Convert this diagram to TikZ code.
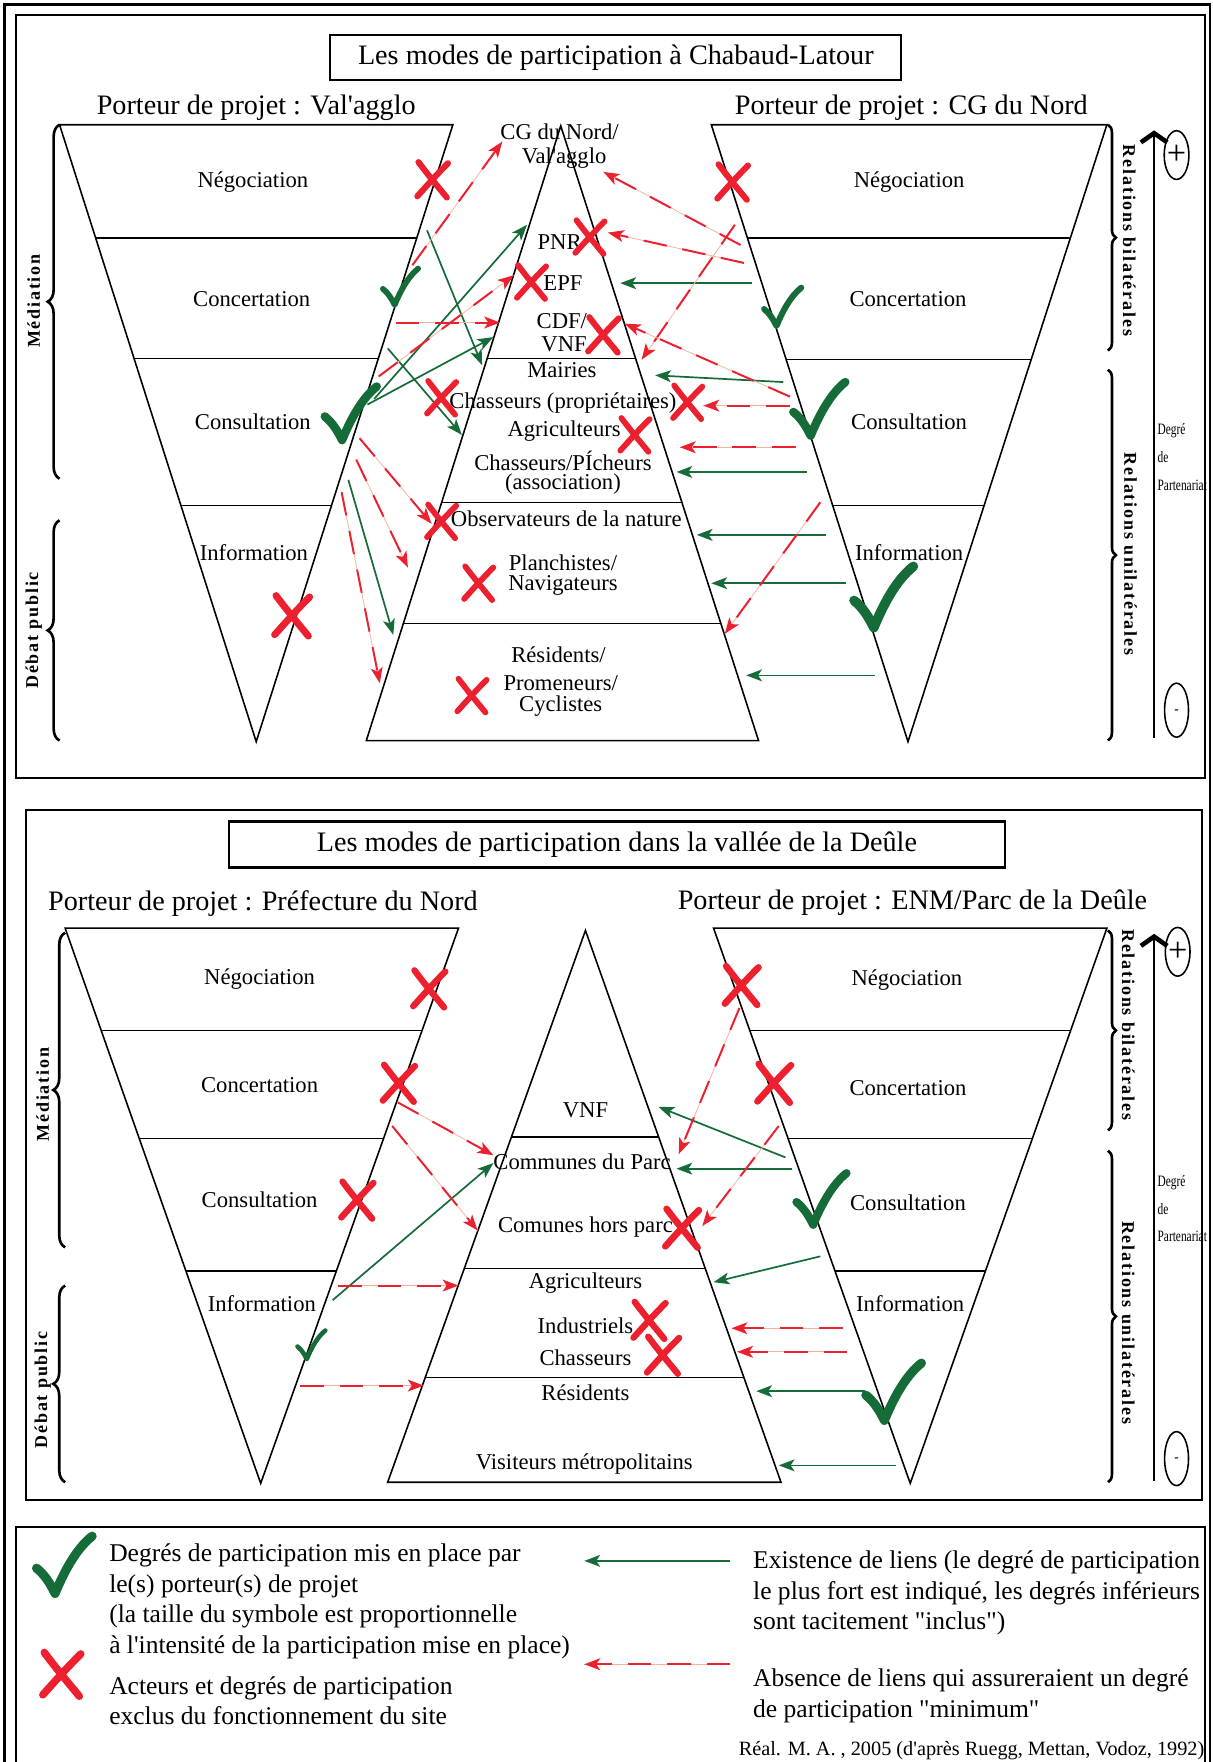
\documentclass[tikz,border=0pt]{standalone}
\usepackage{fontspec}
\setmainfont{Liberation Serif}[Ligatures=TeXOff]
\newfontfamily\espace[LetterSpace=10]{Liberation Serif}
\usetikzlibrary{arrows.meta,calc,decorations.pathreplacing}

\definecolor{rouge}{RGB}{236,32,46}
\definecolor{rose}{RGB}{244,178,160}
\definecolor{vert}{RGB}{22,108,56}

% symboles : croix (exclu) et coche (mis en place)
\newcommand{\croix}[3]{\draw[rouge,line width=#3*4.4pt,line cap=round,shift={(#1,#2)},scale=#3]
  (-12,-15) .. controls (-3,-3) and (3,4) .. (12,15)
  (13,-14) .. controls (3,-4) and (-4,4) .. (-13,14);}
\newcommand{\coche}[3]{\draw[vert,line width=#3*4.6pt,line cap=round,line join=round,shift={(#1,#2)},scale=#3]
  (-15,-1) .. controls (-10,3) and (-7,8) .. (-4,14) .. controls (1,2) and (8,-12) .. (18,-20);}
% entonnoir / pyramide coupe en niveaux
\newcommand{\niveaux}[7]{%
  \draw[forme] (#1,#5) -- (#2,#5) -- (#4,#6) -- (#3,#6) -- cycle;
  \foreach \yy in {#7}{%
    \pgfmathsetmacro{\tpos}{(\yy-#5)/(#6-#5)}
    \draw[forme] ($(#1,#5)!\tpos!(#3,#6)$) -- ($(#2,#5)!\tpos!(#4,#6)$);}}

\begin{document}
\begin{tikzpicture}[x=0.03cm,y=-0.03cm]
  \tikzset{every node/.style={inner sep=0pt},font=\fontsize{17.2}{20}\selectfont}
  \tikzstyle{forme}=[line width=1.2pt]
  \tikzstyle{cadre}=[line width=1.6pt]
  \tikzstyle{titre}=[font=\fontsize{21.4}{25}\selectfont]
  \tikzstyle{legende}=[font=\fontsize{19.4}{23}\selectfont,anchor=base west]
  \tikzstyle{lateral}=[font=\espace\bfseries\fontsize{13.7}{16}\selectfont]
  \tikzstyle{accolade}=[decorate,decoration={brace,amplitude=9pt},line width=2pt]
  \tikzstyle{accolade d}=[decorate,decoration={brace,amplitude=6pt},line width=2pt]
  \tikzstyle{partenariat}=[font=\fontsize{12}{21}\selectfont,align=left,anchor=north west,xscale=.72,transform shape]
  \tikzstyle{lien}=[vert,line width=1.3pt,-{Stealth[length=12pt,width=9pt,inset=3pt]}]
  \tikzstyle{absent}=[rouge,line width=1.5pt,dash pattern=on 18pt off 12pt,
    -{Stealth[length=12pt,width=9pt,inset=3pt]},preaction={draw=rose,line width=.6pt,solid,-}]
  \tikzstyle{axe}=[line width=1pt,-{Straight Barb[length=7pt,width=20pt,line width=3.5pt]}]

  \useasboundingbox (0,0) rectangle (1079,1568);

  % cadres
  \draw[cadre] (4,1590) -- (4,4) -- (1077,4) -- (1077,1590);
  \draw[cadre] (14,13) rectangle (1072,692);
  \draw[cadre] (23,721) rectangle (1070,1335);
  \draw[cadre] (14,1590) -- (14,1359) -- (1072,1359) -- (1072,1590);

  %% ---- Chabaud-Latour ----
  \draw[cadre] (294,31) rectangle (802,71);
  \node[titre] (titre1) at (548,51) {Les modes de participation à Chabaud-Latour};
  \node[titre] (port1g) at (228,96) {Porteur de projet : Val'agglo};
  \node[titre] (port1d) at (811,96) {Porteur de projet : CG du Nord};

  \niveaux{53}{403}{228}{228}{111}{660}{212,319,450}
  \niveaux{633}{985}{808}{808}{111}{660}{212,320,450}
  \niveaux{499}{499}{326}{675}{112}{659}{319,447,555}

  \node (neg1g) at (225,162) {Négociation};
  \node (con1g) at (224,266) {Concertation};
  \node (cst1g) at (225,375) {Consultation};
  \node (inf1g) at (226,492) {Information};
  \node (neg1d) at (809,162) {Négociation};
  \node (con1d) at (808,266) {Concertation};
  \node (cst1d) at (809,375) {Consultation};
  \node (inf1d) at (809,492) {Information};

  % acteurs
  \node (cg)   at (498,117) {CG du Nord/};
  \node (val)  at (502,141) {Val'agglo};
  \node (pnr)  at (498,215) {PNR};
  \node (epf)  at (501,252) {EPF};
  \node (cdf)  at (500,286) {CDF/};
  \node (vnf1) at (502,306) {VNF};
  \node (mai)  at (500,329) {Mairies};
  \node (chp)  at (501,359) {Chasseurs (propriétaires)};
  \node (agr1) at (502,384) {Agriculteurs};
  \node (chs)  at (501,410) {Chasseurs/PÍcheurs};
  \node (ass)  at (501,431) {(association)};
  \node (obs)  at (504,462) {Observateurs de la nature};
  \node (pla)  at (501,501) {Planchistes/};
  \node (nav)  at (501,521) {Navigateurs};
  \node (res1) at (497,583) {Résidents/};
  \node (pro)  at (499,608) {Promeneurs/};
  \node (cyc)  at (499,628) {Cyclistes};

  % liens
  \foreach \xa/\ya/\xb/\yb in {380/205/429/325, 333/355/469/200, 327/360/439/300,
      345/310/411/387, 310/427/350/565, 669/252/552/252, 697/340/583/334,
      718/420/602/420, 735/476/620/476, 753/519/633/519, 779/601/664/601}
    \draw[lien] (\xa,\ya) -- (\xb,\yb);
  \foreach \xa/\ya/\xb/\yb in {367/236/447/126, 337/335/457/245, 352/287/445/287,
      320/390/384/466, 317/409/363/505, 304/438/338/608, 659/218/537/153,
      662/234/541/207, 654/200/571/320, 703/353/556/288, 703/361/626/361,
      708/398/605/398, 730/447/645/564}
    \draw[absent] (\xa,\ya) -- (\xb,\yb);

  \croix{385}{160}{1.05} \croix{260}{548}{1.2}
  \croix{473}{251}{1} \croix{525}{211}{1} \croix{537}{298}{1.05}
  \croix{393}{354}{1} \croix{612}{358}{1} \croix{565}{387}{1}
  \croix{393}{464}{1} \croix{426}{519}{1} \croix{420}{619}{1}
  \croix{652}{162}{1.05}
  \coche{355}{258}{.95} \coche{310}{372}{1.4}
  \coche{695}{276}{1} \coche{727}{368}{1.4} \coche{784}{536}{1.6}

  % accolades et axe
  \draw[accolade] (53,426) -- (53,111);
  \draw[accolade] (53,659) -- (53,463);
  \draw[accolade d] (986,111) -- (986,312);
  \draw[accolade d] (986,329) -- (986,659);
  \node[lateral,rotate=90] (med1) at (30,268) {Médiation};
  \node[lateral,rotate=90] (deb1) at (30,561) {Débat public};
  \node[lateral,rotate=-90] (bil1) at (1005,214) {Relations bilatérales};
  \node[lateral,rotate=-90] (uni1) at (1006,493) {Relations unilatérales};
  \draw[axe] (1027,657) -- (1027,116);
  \draw[forme] (1047,138) ellipse [x radius=.33cm,y radius=.65cm];
  \draw[forme] (1047,632) ellipse [x radius=.32cm,y radius=.72cm];
  \node[font=\fontsize{26}{26}\selectfont] (plus1) at (1047,138) {+};
  \node[font=\bfseries] (moins1) at (1047,633) {-};
  \node[partenariat] (deg1) at (1030,377) {Degré\\de\\Partenariat};

  %% ---- vallée de la Deûle ----
  \draw[cadre] (204,731) rectangle (894,772);
  \node[titre] (titre2) at (549,752) {Les modes de participation dans la vallée de la Deûle};
  \node[titre] (port2g) at (234,804) {Porteur de projet : Préfecture du Nord};
  \node[titre] (port2d) at (812,803) {Porteur de projet : ENM/Parc de la Deûle};

  \niveaux{58}{408}{232}{232}{826}{1320}{917,1013,1131}
  \niveaux{635}{985}{810}{810}{826}{1320}{917,1013,1131}
  \niveaux{521}{521}{345}{695}{828}{1319}{1012,1129,1226}

  \node (neg2g) at (231,871) {Négociation};
  \node (con2g) at (231,966) {Concertation};
  \node (cst2g) at (231,1068) {Consultation};
  \node (inf2g) at (233,1160) {Information};
  \node (neg2d) at (807,872) {Négociation};
  \node (con2d) at (808,968) {Concertation};
  \node (cst2d) at (808,1070) {Consultation};
  \node (inf2d) at (810,1160) {Information};

  \node (vnf2) at (521,988) {VNF};
  \node (cdp)  at (518,1034) {Communes du Parc};
  \node (chp2) at (521,1092) {Comunes hors parc};
  \node (agr2) at (521,1142) {Agriculteurs};
  \node (ind)  at (521,1180) {Industriels};
  \node (cha2) at (521,1208) {Chasseurs};
  \node (res2) at (521,1239) {Résidents};
  \node (vis)  at (520,1303) {Visiteurs métropolitains};

  \foreach \xa/\ya/\xb/\yb in {296/1157/439/1035, 699/1030/586/985, 705/1040/602/1040,
      730/1118/635/1141, 770/1238/673/1238, 797/1304/693/1304}
    \draw[lien] (\xa,\ya) -- (\xb,\yb);
  \foreach \xa/\ya/\xb/\yb in {354/981/439/1028, 349/1002/425/1095, 301/1144/408/1144,
      267/1233/377/1233, 658/897/604/1027, 693/1002/625/1091,
      750/1182/651/1182, 754/1203/656/1203}
    \draw[absent] (\xa,\ya) -- (\xb,\yb);

  \croix{382}{880}{1.1} \croix{355}{964}{1.1} \croix{318}{1068}{1.1}
  \croix{660}{877}{1.15} \croix{689}{964}{1.15} \croix{607}{1093}{1.15}
  \croix{578}{1175}{1.1} \croix{590}{1206}{1.1}
  \coche{276}{1199}{.75} \coche{729}{1071}{1.35} \coche{793}{1243}{1.5}

  \draw[accolade] (58,1110) -- (58,830);
  \draw[accolade] (58,1319) -- (58,1144);
  \draw[accolade d] (986,828) -- (986,1006);
  \draw[accolade d] (986,1024) -- (986,1319);
  \node[lateral,rotate=90] (med2) at (38,974) {Médiation};
  \node[lateral,rotate=90] (deb2) at (38,1237) {Débat public};
  \node[lateral,rotate=-90] (bil2) at (1004,912) {Relations bilatérales};
  \node[lateral,rotate=-90] (uni2) at (1004,1177) {Relations unilatérales};
  \draw[axe] (1027,1318) -- (1027,831);
  \draw[forme] (1048,847) ellipse [x radius=.33cm,y radius=.65cm];
  \draw[forme] (1047,1298) ellipse [x radius=.32cm,y radius=.72cm];
  \node[font=\fontsize{26}{26}\selectfont] (plus2) at (1048,847) {+};
  \node[font=\bfseries] (moins2) at (1047,1299) {-};
  \node[partenariat] (deg2) at (1030,1046) {Degré\\de\\Partenariat};

  %% ---- legende ----
  \coche{55}{1397}{1.5}
  \croix{55}{1490}{1.3}
  \node[legende] (l1) at (97,1390) {Degrés de participation mis en place par};
  \node[legende] (l2) at (97,1417) {le(s) porteur(s) de projet};
  \node[legende] (l3) at (97,1444) {(la taille du symbole est proportionnelle};
  \node[legende] (l4) at (97,1471) {à l'intensité de la participation mise en place)};
  \node[legende] (l5) at (97,1508) {Acteurs et degrés de participation};
  \node[legende] (l6) at (97,1535) {exclus du fonctionnement du site};
  \draw[lien] (650,1389) -- (520,1389);
  \draw[absent] (650,1481) -- (520,1481);
  \node[legende] (r1) at (670,1396) {Existence de liens (le degré de participation};
  \node[legende] (r2) at (670,1423) {le plus fort est indiqué, les degrés inférieurs};
  \node[legende] (r3) at (670,1450) {sont tacitement "inclus")};
  \node[legende] (r4) at (670,1501) {Absence de liens qui assureraient un degré};
  \node[legende] (r5) at (670,1528) {de participation "minimum"};
  \node[font=\fontsize{15.4}{18}\selectfont,anchor=base east] (real) at (1072,1562)
    {Réal. M. A. , 2005 (d'après Ruegg, Mettan, Vodoz, 1992)};
\end{tikzpicture}
\end{document}
